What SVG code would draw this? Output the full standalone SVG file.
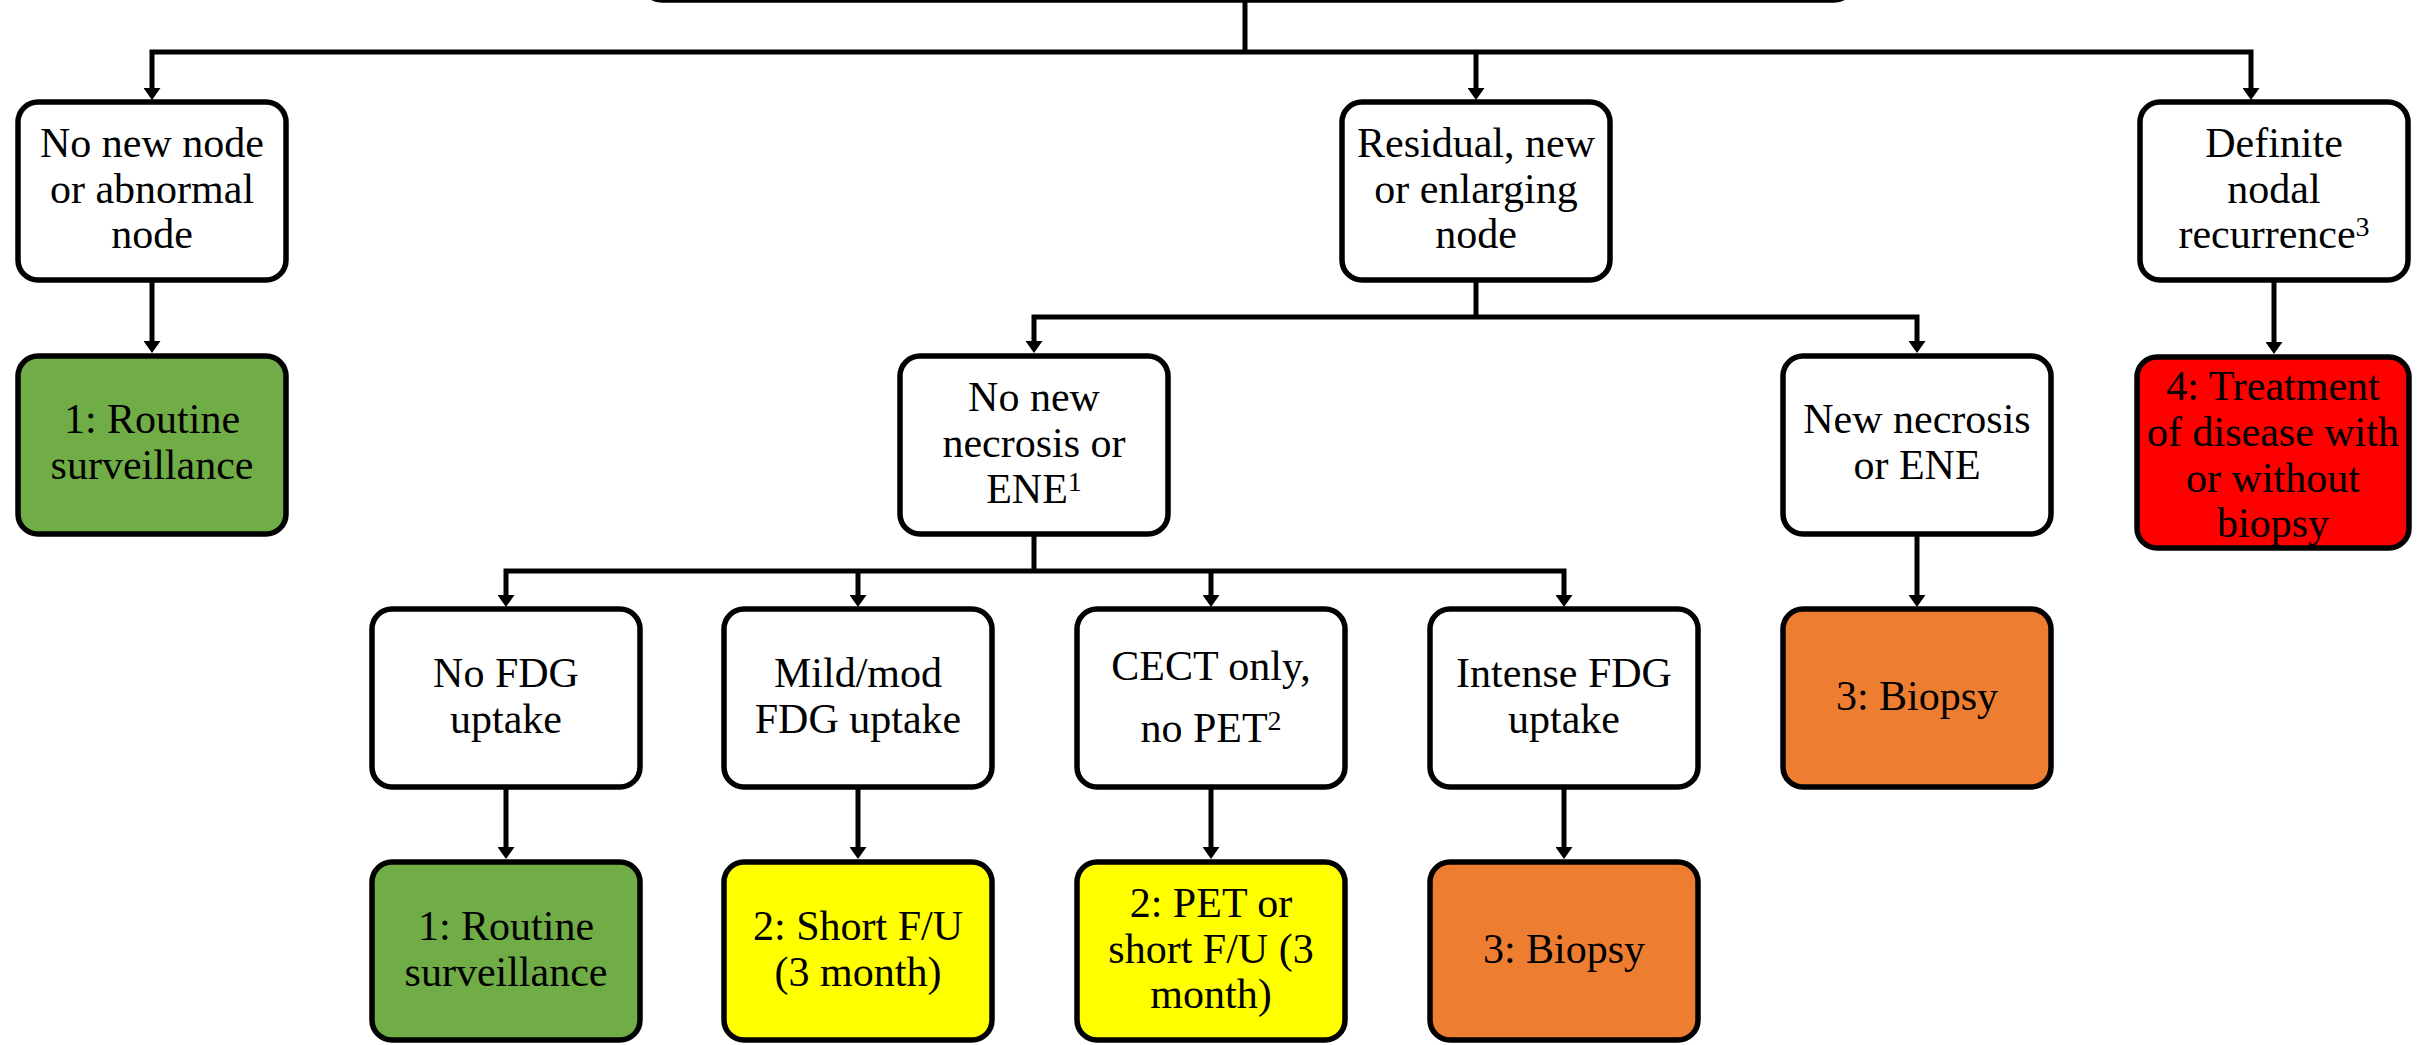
<svg xmlns="http://www.w3.org/2000/svg" width="2419" height="1045" viewBox="0 0 2419 1045">
<style>
.box{stroke:#000;stroke-width:5.5}
.w{fill:#fff}
.g{fill:#70AD47}
.y{fill:#FFFF00}
.o{fill:#ED7D31}
.r{fill:#FF0000}
.c{fill:none;stroke:#000;stroke-width:5;stroke-linejoin:miter}
.a{marker-end:url(#ah)}
.b{marker-start:url(#ah);marker-end:url(#ah)}
text{font-family:"Liberation Serif","Times New Roman",serif;font-size:42px;fill:#000;text-anchor:middle}
.sup{font-size:28px}
</style>
<defs>
<marker id="ah" viewBox="0 0 12 17" refX="0" refY="8.5" markerWidth="12" markerHeight="17" markerUnits="userSpaceOnUse" orient="auto-start-reverse">
<path d="M0,0 L12,8.5 L0,17 z" fill="#000"/>
</marker>
</defs>
<rect width="2419" height="1045" fill="#fff"/>

<g id="connectors">
<path class="c" d="M1245,0 V52"/>
<path class="c b" d="M152,88 V52 H2251 V88"/>
<path class="c a" d="M1476,52 V88"/>
<path class="c a" d="M152,282 V341"/>
<path class="c" d="M1476,282 V317"/>
<path class="c b" d="M1034,341 V317 H1917 V341"/>
<path class="c a" d="M2274,282 V342"/>
<path class="c" d="M1034,536 V571"/>
<path class="c b" d="M506,595 V571 H1564 V595"/>
<path class="c a" d="M858,571 V595"/>
<path class="c a" d="M1211,571 V595"/>
<path class="c a" d="M1917,536 V595"/>
<path class="c a" d="M506,789 V847"/>
<path class="c a" d="M858,789 V847"/>
<path class="c a" d="M1211,789 V847"/>
<path class="c a" d="M1564,789 V847"/>
</g>

<g id="top">
<rect class="box w" x="642" y="-200" width="1212" height="200" rx="20"/>
</g>

<g id="n-no-new-node">
<rect class="box w" x="18" y="102" width="268" height="178" rx="20"/>
<text><tspan x="152" y="157">No new node</tspan><tspan x="152" y="203">or abnormal</tspan><tspan x="152" y="248">node</tspan></text>
</g>
<g id="n-routine-1">
<rect class="box g" x="18" y="356" width="268" height="178" rx="20"/>
<text><tspan x="152" y="433">1: Routine</tspan><tspan x="152" y="479">surveillance</tspan></text>
</g>

<g id="n-residual">
<rect class="box w" x="1342" y="102" width="268" height="178" rx="20"/>
<text><tspan x="1476" y="157">Residual, new</tspan><tspan x="1476" y="203">or enlarging</tspan><tspan x="1476" y="248">node</tspan></text>
</g>

<g id="n-definite">
<rect class="box w" x="2140" y="102" width="268" height="178" rx="20"/>
<text><tspan x="2274" y="157">Definite</tspan><tspan x="2274" y="203">nodal</tspan><tspan x="2274" y="248">recurrence<tspan class="sup" dy="-12">3</tspan></tspan></text>
</g>
<g id="n-treatment">
<rect class="box r" x="2137" y="357" width="272" height="191" rx="20"/>
<text><tspan x="2273" y="400">4: Treatment</tspan><tspan x="2273" y="446">of disease with</tspan><tspan x="2273" y="492">or without</tspan><tspan x="2273" y="537">biopsy</tspan></text>
</g>

<g id="n-no-new-necrosis">
<rect class="box w" x="900" y="356" width="268" height="178" rx="20"/>
<text><tspan x="1034" y="411">No new</tspan><tspan x="1034" y="457">necrosis or</tspan><tspan x="1034" y="503">ENE<tspan class="sup" dy="-12">1</tspan></tspan></text>
</g>

<g id="n-new-necrosis">
<rect class="box w" x="1783" y="356" width="268" height="178" rx="20"/>
<text><tspan x="1917" y="433">New necrosis</tspan><tspan x="1917" y="479">or ENE</tspan></text>
</g>
<g id="n-biopsy-right">
<rect class="box o" x="1783" y="609" width="268" height="178" rx="20"/>
<text x="1917" y="710">3: Biopsy</text>
</g>

<g id="n-no-fdg">
<rect class="box w" x="372" y="609" width="268" height="178" rx="20"/>
<text><tspan x="506" y="687">No FDG</tspan><tspan x="506" y="733">uptake</tspan></text>
</g>
<g id="n-mild">
<rect class="box w" x="724" y="609" width="268" height="178" rx="20"/>
<text><tspan x="858" y="687">Mild/mod</tspan><tspan x="858" y="733">FDG uptake</tspan></text>
</g>
<g id="n-cect">
<rect class="box w" x="1077" y="609" width="268" height="178" rx="20"/>
<text><tspan x="1211" y="680">CECT only,</tspan><tspan x="1211" y="742">no PET<tspan class="sup" dy="-12">2</tspan></tspan></text>
</g>
<g id="n-intense">
<rect class="box w" x="1430" y="609" width="268" height="178" rx="20"/>
<text><tspan x="1564" y="687">Intense FDG</tspan><tspan x="1564" y="733">uptake</tspan></text>
</g>

<g id="n-routine-2">
<rect class="box g" x="372" y="862" width="268" height="178" rx="20"/>
<text><tspan x="506" y="940">1: Routine</tspan><tspan x="506" y="986">surveillance</tspan></text>
</g>
<g id="n-short-fu">
<rect class="box y" x="724" y="862" width="268" height="178" rx="20"/>
<text><tspan x="858" y="940">2: Short F/U</tspan><tspan x="858" y="986">(3 month)</tspan></text>
</g>
<g id="n-pet-or-short">
<rect class="box y" x="1077" y="862" width="268" height="178" rx="20"/>
<text><tspan x="1211" y="917">2: PET or</tspan><tspan x="1211" y="963">short F/U (3</tspan><tspan x="1211" y="1008">month)</tspan></text>
</g>
<g id="n-biopsy-bottom">
<rect class="box o" x="1430" y="862" width="268" height="178" rx="20"/>
<text x="1564" y="963">3: Biopsy</text>
</g>
</svg>
